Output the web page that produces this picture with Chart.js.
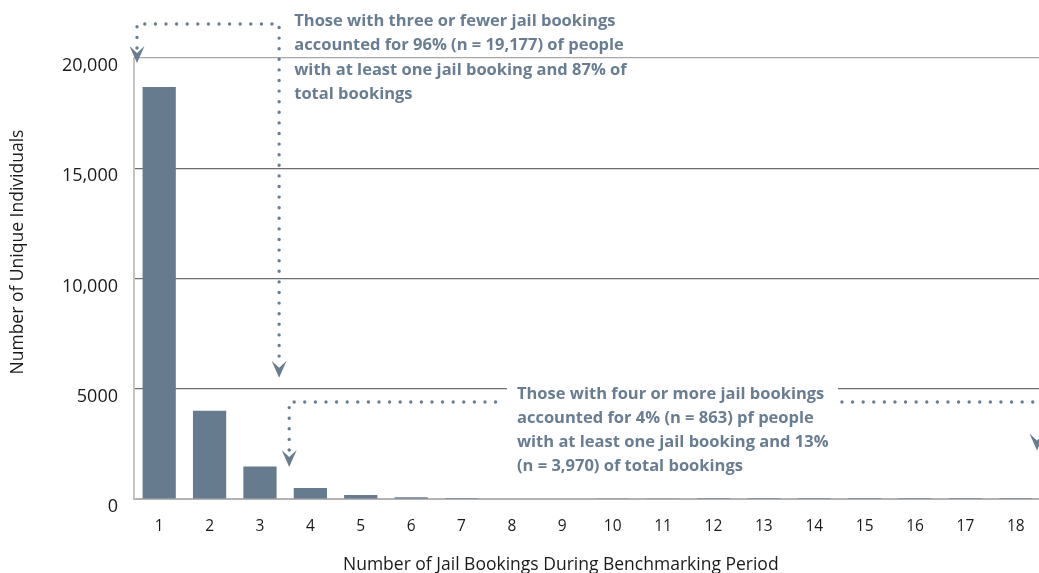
<!DOCTYPE html>
<html lang="en">
<head>
  <meta charset="UTF-8">
  <title>Jail bookings</title>
  <script src="https://cdn.jsdelivr.net/npm/chart.js"></script>
  <style>
    body {
      margin: 0;
      background: #fff;
      overflow: hidden;
    }
    #wrap {
      width: 1039px;
      height: 573px;
      overflow: hidden;
    }
  </style>
</head>
<body>
  <div id="wrap">
    <canvas id="bookingsChart" width="1041" height="573"></canvas>
  </div>

  <script>
    const bookings = ['1', '2', '3', '4', '5', '6', '7', '8', '9', '10', '11', '12', '13', '14', '15', '16', '17', '18'];
    const individuals = [18680, 4000, 1470, 500, 180, 80, 40, 22, 20, 16, 16, 1, 1, 1, 1, 1, 1, 1];
    const yTicks = [0, 5000, 10000, 15000, 20000];
    const yTickLabels = ['0', '5000', '10,000', '15,000', '20,000'];

    const noteTop = [
      'Those with three or fewer jail bookings',
      'accounted for 96% (n = 19,177) of people',
      'with at least one jail booking and 87% of',
      'total bookings'
    ];
    const noteBottom = [
      'Those with four or more jail bookings',
      'accounted for 4% (n = 863) pf people',
      'with at least one jail booking and 13%',
      '(n = 3,970) of total bookings'
    ];

    const barColor = '#677b8e';
    const noteColor = '#687d92';

    function dotted(ctx, pts) {
      ctx.save();
      ctx.strokeStyle = noteColor;
      ctx.lineWidth = 3.4;
      ctx.lineCap = 'round';
      ctx.setLineDash([0, 10.6]);
      ctx.beginPath();
      ctx.moveTo(pts[0][0], pts[0][1]);
      for (let i = 1; i < pts.length; i++) ctx.lineTo(pts[i][0], pts[i][1]);
      ctx.stroke();
      ctx.restore();
    }

    function arrowDown(ctx, x, tipY) {
      ctx.save();
      ctx.fillStyle = noteColor;
      ctx.beginPath();
      ctx.moveTo(x, tipY);
      ctx.lineTo(x - 7.5, tipY - 17);
      ctx.lineTo(x, tipY - 10);
      ctx.lineTo(x + 7.5, tipY - 17);
      ctx.closePath();
      ctx.fill();
      ctx.restore();
    }

    const notes = {
      id: 'notes',
      afterDraw(chart) {
        const ctx = chart.ctx;
        const xs = chart.scales.x;
        const ys = chart.scales.y;
        const area = chart.chartArea;

        // axis titles
        ctx.save();
        ctx.fillStyle = '#1a1a1a';
        ctx.font = '17.5px "Open Sans", sans-serif';
        ctx.textAlign = 'center';
        ctx.textBaseline = 'middle';
        ctx.fillText('Number of Jail Bookings During Benchmarking Period', xs.getPixelForValue(7.97), 565);
        ctx.font = '17.5px "Open Sans", sans-serif';
        ctx.translate(18, ys.getPixelForValue(11200));
        ctx.rotate(-Math.PI / 2);
        ctx.fillText('Number of Unique Individuals', 0, 0);
        ctx.restore();

        // top note
        const topY = 24;
        const ax = area.left + 3;
        const vx = xs.getPixelForValue(2.38);
        dotted(ctx, [[ax, 48], [ax, topY], [vx, topY], [vx, ys.getPixelForValue(6300)]]);
        arrowDown(ctx, ax, ys.getPixelForValue(20000) + 5);
        arrowDown(ctx, vx, ys.getPixelForValue(5500));

        // bottom note
        const lineY = ys.getPixelForValue(4400);
        const bx = xs.getPixelForValue(2.58);
        const tx = xs.getPixelForValue(7.1);
        dotted(ctx, [[bx, 450], [bx, lineY], [tx - 14, lineY]]);
        dotted(ctx, [[xs.getPixelForValue(13.55), lineY], [xs.getPixelForValue(17.4), lineY]]);
        arrowDown(ctx, bx, ys.getPixelForValue(1450));
        arrowDown(ctx, xs.getPixelForValue(17.42), ys.getPixelForValue(2200));

        // white box behind bottom text
        ctx.save();
        ctx.fillStyle = '#fff';
        ctx.fillRect(tx - 10, ys.getPixelForValue(5500), xs.getPixelForValue(13.47) - tx + 10, 95);
        ctx.restore();

        ctx.save();
        ctx.fillStyle = noteColor;
        ctx.font = 'bold 16.5px "Open Sans", sans-serif';
        ctx.textAlign = 'left';
        ctx.textBaseline = 'middle';
        const tlx = xs.getPixelForValue(2.68);
        noteTop.forEach((s, i) => ctx.fillText(s, tlx, 21 + i * 24.4));
        noteBottom.forEach((s, i) => ctx.fillText(s, tx, 394 + i * 24.2));
        ctx.restore();
      }
    };

    new Chart(document.getElementById('bookingsChart'), {
      type: 'bar',
      data: {
        labels: bookings,
        datasets: [{
          data: individuals,
          backgroundColor: barColor,
          barPercentage: 0.66,
          categoryPercentage: 1
        }]
      },
      options: {
        responsive: false,
        animation: false,
        layout: { padding: { top: 58, right: 0, left: 0, bottom: 0 } },
        plugins: {
          legend: { display: false },
          tooltip: { enabled: false }
        },
        scales: {
          x: {
            afterFit: s => { s.height = 74; },
            grid: { display: false },
            border: { color: '#b3b3b3', width: 2 },
            ticks: {
              color: '#1a1a1a',
              padding: 10,
              maxRotation: 0,
              autoSkip: false,
              font: { family: 'Open Sans', size: 15.5 }
            }
          },
          y: {
            min: 0,
            max: 20000,
            afterFit: s => { s.width = 134; },
            afterBuildTicks: s => { s.ticks = yTicks.map(v => ({ value: v })); },
            border: { color: '#c4c4c4', width: 2 },
            grid: {
              drawTicks: false,
              lineWidth: 1.2,
              color: c => c.tick.value === 0 ? 'rgba(0,0,0,0)' : (c.tick.value === 20000 ? '#a8a8a8' : '#6e6e6e')
            },
            ticks: {
              color: '#1a1a1a',
              padding: 16,
              labelOffset: 8,
              font: { family: 'Open Sans', size: 18 },
              callback: (v) => yTickLabels[yTicks.indexOf(v)]
            }
          }
        }
      },
      plugins: [notes]
    });
  </script>
</body>
</html>
